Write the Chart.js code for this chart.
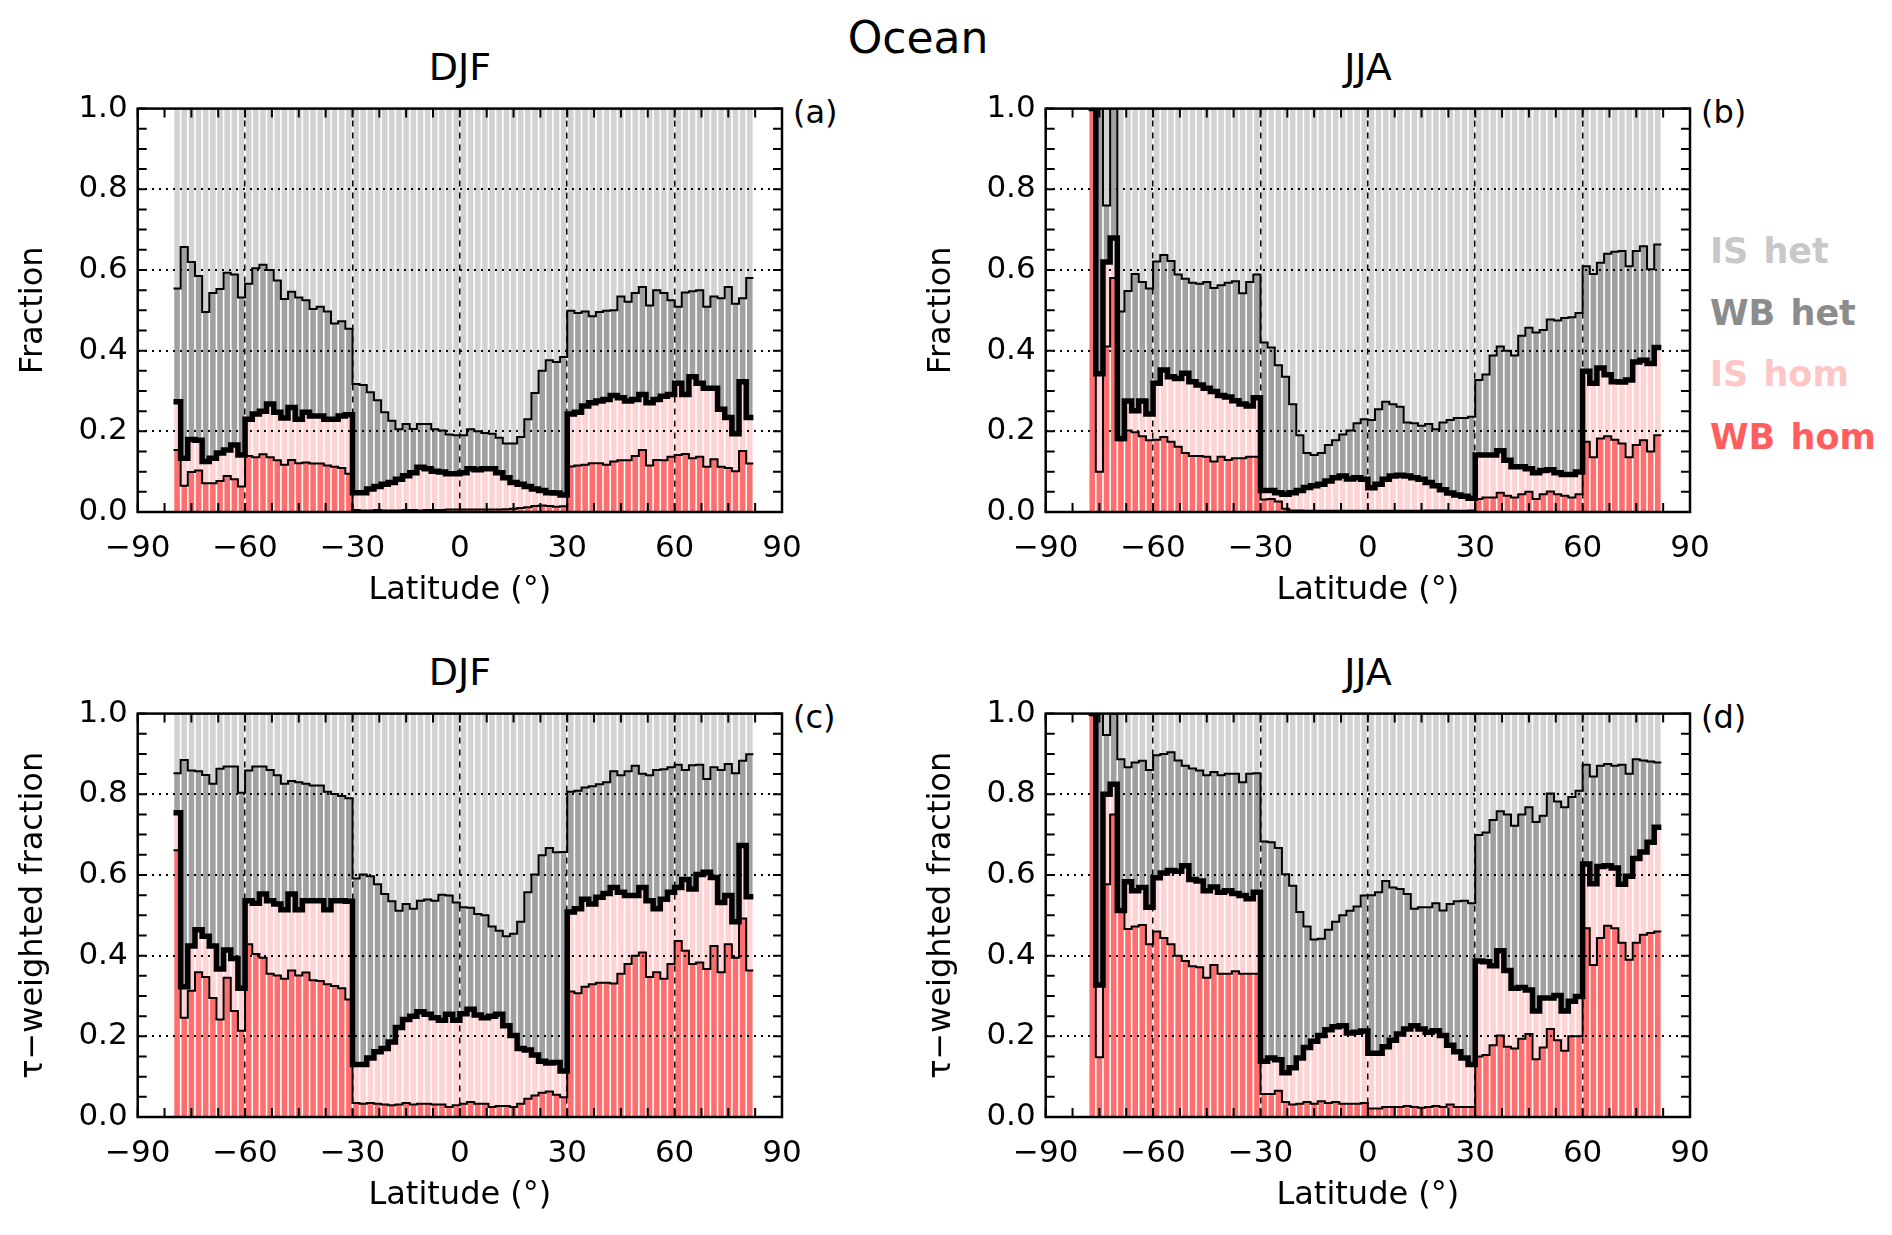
<!DOCTYPE html>
<html>
<head>
<meta charset="utf-8">
<script src="https://cdn.jsdelivr.net/npm/chart.js@4.4.1/dist/chart.umd.min.js"></script>
<style>
  html, body { margin: 0; padding: 0; background: #fff; width: 1892px; height: 1235px; overflow: hidden; }
  .panel { position: absolute; width: 946px; height: 538px; }
  .txt { position: absolute; font-family: "DejaVu Sans", sans-serif; color: #000; white-space: nowrap; transform: translate(-50%, -50%); }
  .tag { position: absolute; font-family: "DejaVu Sans", sans-serif; font-size: 32px; color: #000; transform: translateY(-50%); }
  .leg { position: absolute; left: 1710px; font-family: "DejaVu Sans", sans-serif; font-weight: bold; font-size: 35px; white-space: nowrap; word-spacing: 3px; transform: translateY(-50%); }
</style>
</head>
<body>
<div class="txt" style="left:918px; top:37px; font-size:44px;">Ocean</div>
<div class="txt" style="left:460px; top:67px; font-size:38px;">DJF</div>
<div class="txt" style="left:1368px; top:67px; font-size:38px;">JJA</div>
<div class="txt" style="left:460px; top:672px; font-size:38px;">DJF</div>
<div class="txt" style="left:1368px; top:672px; font-size:38px;">JJA</div>
<div class="tag" style="left:793px; top:112px;">(a)</div>
<div class="tag" style="left:1701px; top:112px;">(b)</div>
<div class="tag" style="left:793px; top:717px;">(c)</div>
<div class="tag" style="left:1701px; top:717px;">(d)</div>
<div class="leg" style="top:251px; color:#c8c8c8;">IS het</div>
<div class="leg" style="top:313px; color:#8c8c8c;">WB het</div>
<div class="leg" style="top:374px; color:#ffc6c6;">IS hom</div>
<div class="leg" style="top:437px; color:#ff5e5e;">WB hom</div>

<div class="panel" style="left:0px; top:80px;"><canvas id="pa"></canvas></div>
<div class="panel" style="left:908px; top:80px;"><canvas id="pb"></canvas></div>
<div class="panel" style="left:0px; top:685px;"><canvas id="pc"></canvas></div>
<div class="panel" style="left:908px; top:685px;"><canvas id="pd"></canvas></div>

<script>
// latitude bin edges (2 degree bins)
const latEdges = [-80,-78,-76,-74,-72,-70,-68,-66,-64,-62,-60,-58,-56,-54,-52,-50,-48,-46,-44,-42,
  -40,-38,-36,-34,-32,-30,-28,-26,-24,-22,-20,-18,-16,-14,-12,-10,-8,-6,-4,-2,
  0,2,4,6,8,10,12,14,16,18,20,22,24,26,28,30,32,34,36,38,
  40,42,44,46,48,50,52,54,56,58,60,62,64,66,68,70,72,74,76,78,80,82];

const xTickValues = [-90, -60, -30, 0, 30, 60, 90];
const yTickValues = [0, 0.2, 0.4, 0.6, 0.8, 1.0];
const xTickMarks = [-90, -82.5, -75, -67.5, -60, -52.5, -45, -37.5, -30, -22.5, -15, -7.5, 0,
  7.5, 15, 22.5, 30, 37.5, 45, 52.5, 60, 67.5, 75, 82.5, 90];
const yTickMarks = [0, 0.05, 0.1, 0.15, 0.2, 0.25, 0.3, 0.35, 0.4, 0.45, 0.5, 0.55, 0.6, 0.65, 0.7, 0.75, 0.8, 0.85, 0.9, 0.95, 1.0];

// (a) DJF fraction: cumulative tops of WB hom, all hom, hom + WB het
const djfFracWbHom = [
  0.154, 0.065, 0.099, 0.103, 0.071, 0.071, 0.077, 0.089, 0.081, 0.063,
  0.139, 0.136, 0.143, 0.136, 0.128, 0.117, 0.129, 0.121, 0.123, 0.120,
  0.120, 0.115, 0.112, 0.109, 0.095, 0.005, 0.004, 0.004, 0.005, 0.004,
  0.004, 0.004, 0.005, 0.005, 0.004, 0.005, 0.005, 0.005, 0.006, 0.006,
  0.006, 0.006, 0.006, 0.006, 0.006, 0.006, 0.007, 0.008, 0.010, 0.012,
  0.015, 0.016, 0.015, 0.013, 0.014, 0.113, 0.115, 0.117, 0.121, 0.121,
  0.117, 0.125, 0.128, 0.128, 0.139, 0.154, 0.115, 0.129, 0.128, 0.137,
  0.141, 0.144, 0.133, 0.137, 0.112, 0.131, 0.112, 0.109, 0.101, 0.151,
  0.120];
const djfFracHom = [
  0.273, 0.133, 0.180, 0.178, 0.125, 0.133, 0.146, 0.154, 0.166, 0.141,
  0.230, 0.243, 0.250, 0.268, 0.247, 0.233, 0.259, 0.230, 0.247, 0.238,
  0.238, 0.230, 0.230, 0.238, 0.241, 0.048, 0.048, 0.057, 0.063, 0.069,
  0.073, 0.081, 0.090, 0.097, 0.111, 0.107, 0.101, 0.099, 0.095, 0.095,
  0.097, 0.107, 0.105, 0.107, 0.107, 0.097, 0.085, 0.073, 0.069, 0.063,
  0.057, 0.053, 0.048, 0.047, 0.042, 0.243, 0.247, 0.263, 0.271, 0.275,
  0.279, 0.289, 0.283, 0.275, 0.279, 0.291, 0.271, 0.279, 0.287, 0.291,
  0.319, 0.291, 0.335, 0.319, 0.307, 0.307, 0.255, 0.234, 0.194, 0.323,
  0.234];
const djfFracHet = [
  0.554, 0.657, 0.620, 0.585, 0.496, 0.543, 0.553, 0.593, 0.589, 0.532,
  0.566, 0.604, 0.613, 0.600, 0.574, 0.528, 0.546, 0.532, 0.525, 0.503,
  0.509, 0.497, 0.467, 0.473, 0.454, 0.317, 0.315, 0.297, 0.277, 0.247,
  0.226, 0.205, 0.218, 0.206, 0.218, 0.218, 0.205, 0.202, 0.192, 0.190,
  0.190, 0.205, 0.200, 0.196, 0.194, 0.184, 0.170, 0.170, 0.186, 0.230,
  0.295, 0.350, 0.376, 0.372, 0.384, 0.499, 0.493, 0.497, 0.485, 0.496,
  0.499, 0.500, 0.534, 0.521, 0.543, 0.558, 0.512, 0.550, 0.543, 0.525,
  0.509, 0.544, 0.547, 0.550, 0.509, 0.534, 0.530, 0.558, 0.516, 0.530,
  0.580];

// (b) JJA fraction
const jjaFracWbHom = [
  null, 1.000, 0.100, 0.410, 0.580, 0.178, 0.202, 0.198, 0.188, 0.178,
  0.179, 0.186, 0.174, 0.162, 0.146, 0.139, 0.139, 0.137, 0.125, 0.137,
  0.129, 0.133, 0.133, 0.137, 0.137, 0.031, 0.032, 0.026, 0.008, 0.004,
  0.004, 0.003, 0.003, 0.003, 0.003, 0.003, 0.003, 0.003, 0.003, 0.003,
  0.003, 0.003, 0.003, 0.003, 0.003, 0.003, 0.003, 0.003, 0.004, 0.004,
  0.004, 0.003, 0.003, 0.003, 0.004, 0.032, 0.036, 0.036, 0.048, 0.040,
  0.036, 0.044, 0.050, 0.032, 0.044, 0.051, 0.044, 0.040, 0.036, 0.044,
  0.174, 0.136, 0.182, 0.188, 0.179, 0.170, 0.136, 0.166, 0.178, 0.150,
  0.190];
const jjaFracHom = [
  null, 1.000, 0.343, 0.620, 0.679, 0.182, 0.275, 0.251, 0.275, 0.243,
  0.319, 0.352, 0.335, 0.331, 0.344, 0.323, 0.315, 0.307, 0.299, 0.289,
  0.285, 0.276, 0.268, 0.263, 0.283, 0.053, 0.053, 0.048, 0.044, 0.048,
  0.053, 0.061, 0.065, 0.069, 0.077, 0.085, 0.089, 0.082, 0.085, 0.081,
  0.060, 0.069, 0.081, 0.089, 0.091, 0.089, 0.085, 0.081, 0.073, 0.065,
  0.055, 0.047, 0.042, 0.039, 0.034, 0.141, 0.141, 0.141, 0.152, 0.128,
  0.112, 0.112, 0.107, 0.097, 0.103, 0.105, 0.097, 0.093, 0.093, 0.099,
  0.349, 0.319, 0.357, 0.340, 0.323, 0.322, 0.327, 0.372, 0.376, 0.368,
  0.408];
const jjaFracHet = [
  null, 1.000, 1.000, 0.760, 1.000, 0.497, 0.548, 0.590, 0.570, 0.554,
  0.621, 0.637, 0.622, 0.589, 0.578, 0.568, 0.566, 0.570, 0.555, 0.562,
  0.568, 0.572, 0.542, 0.570, 0.589, 0.420, 0.408, 0.364, 0.335, 0.267,
  0.190, 0.146, 0.141, 0.146, 0.166, 0.178, 0.192, 0.202, 0.220, 0.230,
  0.228, 0.255, 0.273, 0.267, 0.261, 0.222, 0.220, 0.214, 0.218, 0.205,
  0.222, 0.228, 0.233, 0.233, 0.236, 0.327, 0.341, 0.388, 0.410, 0.400,
  0.388, 0.437, 0.457, 0.445, 0.451, 0.477, 0.475, 0.481, 0.483, 0.493,
  0.609, 0.590, 0.618, 0.640, 0.645, 0.647, 0.609, 0.647, 0.659, 0.602,
  0.663];

// (c) DJF tau-weighted fraction
const djfTauWbHom = [
  0.661, 0.246, 0.313, 0.359, 0.347, 0.295, 0.242, 0.345, 0.263, 0.214,
  0.428, 0.404, 0.395, 0.355, 0.351, 0.343, 0.363, 0.351, 0.358, 0.339,
  0.337, 0.329, 0.325, 0.319, 0.291, 0.035, 0.033, 0.035, 0.033, 0.031,
  0.029, 0.031, 0.035, 0.031, 0.033, 0.033, 0.031, 0.031, 0.025, 0.029,
  0.033, 0.037, 0.033, 0.033, 0.025, 0.027, 0.027, 0.025, 0.033, 0.045,
  0.053, 0.060, 0.063, 0.055, 0.049, 0.311, 0.307, 0.323, 0.329, 0.333,
  0.333, 0.331, 0.355, 0.379, 0.400, 0.408, 0.347, 0.359, 0.343, 0.379,
  0.436, 0.412, 0.379, 0.383, 0.367, 0.424, 0.359, 0.428, 0.395, 0.492,
  0.363];
const djfTauHom = [
  0.754, 0.323, 0.424, 0.464, 0.448, 0.424, 0.367, 0.414, 0.393, 0.319,
  0.536, 0.530, 0.553, 0.536, 0.528, 0.514, 0.553, 0.514, 0.536, 0.536,
  0.536, 0.514, 0.536, 0.536, 0.535, 0.130, 0.130, 0.146, 0.162, 0.170,
  0.186, 0.222, 0.242, 0.250, 0.261, 0.255, 0.246, 0.240, 0.255, 0.240,
  0.256, 0.267, 0.253, 0.246, 0.250, 0.255, 0.226, 0.202, 0.170, 0.166,
  0.154, 0.138, 0.134, 0.135, 0.114, 0.508, 0.516, 0.540, 0.528, 0.545,
  0.554, 0.569, 0.557, 0.549, 0.549, 0.569, 0.536, 0.516, 0.540, 0.557,
  0.569, 0.589, 0.565, 0.601, 0.607, 0.594, 0.532, 0.549, 0.484, 0.673,
  0.546];
const djfTauHet = [
  0.852, 0.885, 0.859, 0.857, 0.848, 0.826, 0.863, 0.869, 0.869, 0.804,
  0.859, 0.869, 0.869, 0.860, 0.847, 0.826, 0.833, 0.830, 0.826, 0.822,
  0.822, 0.806, 0.801, 0.796, 0.790, 0.591, 0.601, 0.597, 0.577, 0.553,
  0.535, 0.511, 0.528, 0.516, 0.536, 0.539, 0.536, 0.551, 0.549, 0.532,
  0.520, 0.519, 0.503, 0.500, 0.472, 0.462, 0.448, 0.454, 0.484, 0.557,
  0.601, 0.649, 0.667, 0.656, 0.657, 0.806, 0.809, 0.817, 0.820, 0.825,
  0.830, 0.857, 0.847, 0.857, 0.871, 0.851, 0.847, 0.860, 0.862, 0.867,
  0.873, 0.860, 0.872, 0.873, 0.838, 0.867, 0.860, 0.875, 0.852, 0.883,
  0.899];

// (d) JJA tau-weighted fraction
const jjaTauWbHom = [
  null, 1.000, 0.148, 0.577, 0.750, 0.510, 0.466, 0.472, 0.476, 0.428,
  0.460, 0.444, 0.428, 0.400, 0.387, 0.374, 0.371, 0.345, 0.377, 0.355,
  0.355, 0.361, 0.355, 0.355, 0.355, 0.057, 0.057, 0.065, 0.037, 0.031,
  0.033, 0.037, 0.033, 0.039, 0.035, 0.037, 0.033, 0.033, 0.033, 0.035,
  0.021, 0.021, 0.025, 0.025, 0.025, 0.027, 0.025, 0.023, 0.025, 0.027,
  0.025, 0.031, 0.025, 0.025, 0.025, 0.150, 0.154, 0.178, 0.202, 0.174,
  0.170, 0.194, 0.206, 0.143, 0.172, 0.218, 0.190, 0.164, 0.200, 0.200,
  0.468, 0.377, 0.444, 0.474, 0.468, 0.432, 0.390, 0.432, 0.452, 0.456,
  0.460];
const jjaTauHom = [
  null, 1.000, 0.327, 0.800, 0.825, 0.512, 0.583, 0.561, 0.569, 0.520,
  0.593, 0.605, 0.611, 0.609, 0.623, 0.589, 0.585, 0.561, 0.570, 0.557,
  0.561, 0.554, 0.549, 0.541, 0.557, 0.138, 0.146, 0.142, 0.110, 0.122,
  0.146, 0.172, 0.188, 0.202, 0.216, 0.224, 0.226, 0.208, 0.210, 0.213,
  0.158, 0.158, 0.174, 0.190, 0.206, 0.218, 0.226, 0.218, 0.210, 0.214,
  0.202, 0.178, 0.162, 0.146, 0.130, 0.387, 0.385, 0.375, 0.412, 0.363,
  0.319, 0.321, 0.315, 0.263, 0.295, 0.295, 0.301, 0.263, 0.287, 0.299,
  0.627, 0.578, 0.621, 0.623, 0.617, 0.577, 0.597, 0.641, 0.657, 0.681,
  0.718];
const jjaTauHet = [
  null, 1.000, 1.000, 0.947, 1.000, 0.887, 0.867, 0.879, 0.883, 0.860,
  0.897, 0.900, 0.904, 0.884, 0.871, 0.864, 0.859, 0.847, 0.855, 0.847,
  0.851, 0.851, 0.830, 0.851, 0.852, 0.683, 0.681, 0.667, 0.602, 0.573,
  0.508, 0.472, 0.440, 0.442, 0.464, 0.484, 0.500, 0.511, 0.522, 0.549,
  0.550, 0.557, 0.585, 0.569, 0.565, 0.553, 0.516, 0.520, 0.520, 0.530,
  0.512, 0.528, 0.535, 0.536, 0.530, 0.699, 0.705, 0.736, 0.758, 0.750,
  0.722, 0.750, 0.768, 0.731, 0.747, 0.802, 0.782, 0.768, 0.793, 0.809,
  0.873, 0.844, 0.871, 0.875, 0.871, 0.873, 0.851, 0.887, 0.884, 0.881,
  0.879];

const colWbHom = "#ff6e6e";
const colIsHom = "#ffd3d3";
const colWbHet = "#a0a0a0";
const colIsHet = "#d2d2d2";

Chart.defaults.font.family = '"DejaVu Sans", sans-serif';
Chart.defaults.color = "#000";

// floating bars between two boundaries (lo null -> from 0, hi number -> constant)
function binBars(lo, hi, ref) {
  const pts = [];
  for (let i = 0; i < ref.length; i++) {
    if (ref[i] === null) continue;
    const a = lo === null ? 0 : lo[i];
    const b = typeof hi === "number" ? hi : hi[i];
    pts.push({ x: (latEdges[i] + latEdges[i + 1]) / 2, y: [a, b] });
  }
  return pts;
}

// step outline along bin edges
function stepLine(vals) {
  const pts = [];
  for (let i = 0; i < vals.length; i++) {
    if (vals[i] === null) continue;
    pts.push({ x: latEdges[i], y: vals[i] });
  }
  pts.push({ x: latEdges[vals.length], y: vals[vals.length - 1] });
  return pts;
}

// frame + inward tick marks on all four sides
const frameTicks = {
  id: "frameTicks",
  afterDraw(chart) {
    const { ctx, chartArea: a, scales } = chart;
    ctx.save();
    ctx.strokeStyle = "#000";
    ctx.lineWidth = 2;
    ctx.beginPath();
    xTickMarks.forEach(v => {
      const px = scales.x.getPixelForValue(v);
      ctx.moveTo(px, a.bottom); ctx.lineTo(px, a.bottom - 9);
      ctx.moveTo(px, a.top); ctx.lineTo(px, a.top + 9);
    });
    yTickMarks.forEach(v => {
      const py = scales.y.getPixelForValue(v);
      ctx.moveTo(a.left, py); ctx.lineTo(a.left + 9, py);
      ctx.moveTo(a.right, py); ctx.lineTo(a.right - 9, py);
    });
    ctx.stroke();
    ctx.lineWidth = 2.5;
    ctx.strokeRect(a.left, a.top, a.right - a.left, a.bottom - a.top);
    ctx.restore();
  }
};

function makePanel(id, yTitle, wb, hom, het) {
  const barOpts = { type: "bar", grouped: false, barPercentage: 0.78, categoryPercentage: 1.0, borderWidth: 0, order: 1 };
  const lineOpts = { type: "line", stepped: "before", borderColor: "#000", pointRadius: 0, fill: false,
    borderJoinStyle: "miter", borderCapStyle: "butt", order: 0 };

  new Chart(document.getElementById(id), {
    type: "bar",
    data: {
      datasets: [
        { ...barOpts, label: "WB hom", data: binBars(null, wb, het), backgroundColor: colWbHom },
        { ...barOpts, label: "IS hom", data: binBars(wb, hom, het), backgroundColor: colIsHom },
        { ...barOpts, label: "WB het", data: binBars(hom, het, het), backgroundColor: colWbHet },
        { ...barOpts, label: "IS het", data: binBars(het, 1, het), backgroundColor: colIsHet },
        { ...lineOpts, label: "wb", data: stepLine(wb), borderWidth: 2 },
        { ...lineOpts, label: "het", data: stepLine(het), borderWidth: 2 },
        { ...lineOpts, label: "hom", data: stepLine(hom), borderWidth: 5.5 }
      ]
    },
    options: {
      responsive: true,
      maintainAspectRatio: false,
      animation: false,
      events: [],
      layout: { padding: { left: 10, right: 164, top: 19, bottom: 4 } },
      plugins: { legend: { display: false }, tooltip: { enabled: false } },
      scales: {
        x: {
          type: "linear", min: -90, max: 90, offset: false,
          afterBuildTicks: s => { s.ticks = xTickValues.map(v => ({ value: v })); },
          afterFit: s => { s.height = 102; },
          ticks: { font: { size: 31 }, padding: 18, maxRotation: 0, autoSkip: false,
            callback: v => (v < 0 ? "\u2212" + Math.abs(v) : String(v)) },
          grid: { drawTicks: false, offset: false, z: 1, lineWidth: 1.5,
            color: c => (c.tick && Math.abs(c.tick.value) < 90 ? "#000" : "rgba(0,0,0,0)") },
          border: { display: false, dash: [6, 6] },
          title: { display: true, text: "Latitude (\u00b0)", font: { size: 32 } }
        },
        y: {
          min: 0, max: 1,
          afterBuildTicks: s => { s.ticks = yTickValues.map(v => ({ value: v })); },
          afterFit: s => { s.width = 127.7; },
          ticks: { font: { size: 31 }, padding: 10, callback: v => v.toFixed(1) },
          grid: { drawTicks: false, z: 1, lineWidth: 2,
            color: c => (c.tick && c.tick.value > 0.01 && c.tick.value < 0.99 ? "#000" : "rgba(0,0,0,0)") },
          border: { display: false, dash: [2, 5] },
          title: { display: true, text: yTitle, font: { size: 32 } }
        }
      }
    },
    plugins: [frameTicks]
  });
}

makePanel("pa", "Fraction", djfFracWbHom, djfFracHom, djfFracHet);
makePanel("pb", "Fraction", jjaFracWbHom, jjaFracHom, jjaFracHet);
makePanel("pc", "\u03c4\u2212weighted fraction", djfTauWbHom, djfTauHom, djfTauHet);
makePanel("pd", "\u03c4\u2212weighted fraction", jjaTauWbHom, jjaTauHom, jjaTauHet);
</script>
</body>
</html>
